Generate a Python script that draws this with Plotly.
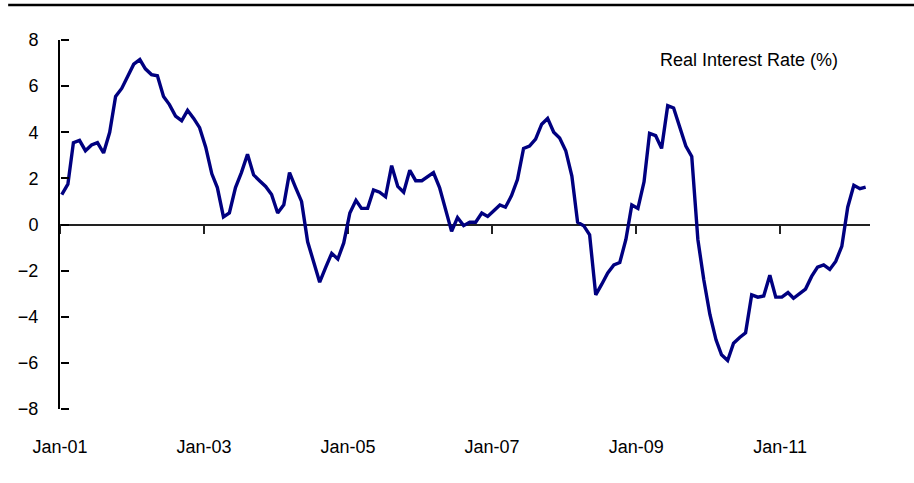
import pandas as pd
import plotly.graph_objects as go

# Monthly real interest rate (%), Jan 2001 onward (observations dated mid-month)
start_month = "2001-01-01"
obs_day_offset = 9
real_rate = [
    1.3, 1.75, 3.55, 3.65, 3.2, 3.45, 3.55, 3.1, 4.0, 5.55, 5.9, 6.45,      # 2001
    6.95, 7.15, 6.75, 6.5, 6.45, 5.55, 5.2, 4.7, 4.5, 4.95, 4.6, 4.2,       # 2002
    3.35, 2.2, 1.6, 0.33, 0.5, 1.6, 2.25, 3.05, 2.15, 1.9, 1.65, 1.3,       # 2003
    0.5, 0.85, 2.25, 1.6, 1.0, -0.75, -1.6, -2.5, -1.85, -1.25, -1.5, -0.8, # 2004
    0.5, 1.05, 0.7, 0.7, 1.5, 1.4, 1.2, 2.55, 1.65, 1.4, 2.35, 1.9,         # 2005
    1.9, 2.1, 2.25, 1.6, 0.6, -0.3, 0.3, -0.05, 0.1, 0.1, 0.5, 0.35,        # 2006
    0.6, 0.85, 0.75, 1.25, 1.95, 3.3, 3.4, 3.7, 4.35, 4.6, 4.0, 3.75,       # 2007
    3.2, 2.1, 0.1, -0.05, -0.45, -3.05, -2.6, -2.1, -1.75, -1.65, -0.65, 0.85,  # 2008
    0.7, 1.85, 3.95, 3.85, 3.3, 5.15, 5.05, 4.25, 3.4, 2.95, -0.65, -2.4,   # 2009
    -3.9, -5.0, -5.65, -5.9, -5.15, -4.9, -4.7, -3.05, -3.15, -3.1, -2.2, -3.15,  # 2010
    -3.15, -2.95, -3.2, -3.0, -2.8, -2.25, -1.85, -1.75, -1.95, -1.6, -0.95, 0.75,  # 2011
    1.7, 1.55, 1.62,                                                         # 2012
]
dates = (pd.date_range(start_month, periods=len(real_rate), freq="MS")
         + pd.Timedelta(days=obs_day_offset))

y_ticks = [-8, -6, -4, -2, 0, 2, 4, 6, 8]
x_tick_dates = ["2001-01-01", "2003-01-01", "2005-01-01", "2007-01-01",
                "2009-01-01", "2011-01-01"]
x_tick_labels = ["Jan-01", "Jan-03", "Jan-05", "Jan-07", "Jan-09", "Jan-11"]
x_range = ["2001-01-01", "2012-04-01"]
y_range = [-8, 8]
series_name = "Real Interest Rate (%)"

NAVY = "#000080"
INK = "#000000"
FONT = dict(family="Liberation Sans, Arial, sans-serif", size=18, color=INK)

fig = go.Figure()

# the visible series
fig.add_trace(go.Scatter(
    x=dates, y=real_rate, mode="lines", name=series_name,
    line=dict(color=NAVY, width=3.4), xaxis="x", yaxis="y",
    showlegend=False,
))
# transparent copies bound to the helper axes so those axes get rendered
for xa, ya in (("x2", "y"), ("x", "y2")):
    fig.add_trace(go.Scatter(
        x=dates, y=real_rate, mode="lines", opacity=0, hoverinfo="skip",
        line=dict(color=NAVY, width=0), xaxis=xa, yaxis=ya,
        showlegend=False,
    ))

fig.update_layout(
    width=914, height=483,
    margin=dict(l=60, r=44, t=40, b=74),
    paper_bgcolor="white", plot_bgcolor="white",
    font=FONT,
    showlegend=False,
    # date labels along the bottom
    xaxis=dict(
        type="date", range=x_range,
        tickvals=x_tick_dates, ticktext=x_tick_labels,
        showline=False, showgrid=False, zeroline=False,
        ticks="", ticklabelstandoff=25,
        tickfont=FONT,
    ),
    # horizontal axis line through zero with downward tick marks
    xaxis2=dict(
        type="date", overlaying="x", matches="x",
        anchor="free", position=0.5,
        tickvals=x_tick_dates, showticklabels=False,
        showline=True, linecolor="#222222", linewidth=2,
        ticks="outside", ticklen=8, tickwidth=2, tickcolor="#222222",
        showgrid=False, zeroline=False, layer="below traces",
    ),
    # value axis: line and labels
    yaxis=dict(
        range=y_range, tickvals=y_ticks,
        showline=True, linecolor=INK, linewidth=2,
        ticks="",
        showgrid=False, zeroline=False,
        ticklabelstandoff=16, tickfont=FONT,
    ),
    # value axis tick marks pointing into the plot
    yaxis2=dict(
        overlaying="y", matches="y", anchor="free", position=0, side="right",
        tickvals=y_ticks, showticklabels=False,
        showline=False, ticks="outside", ticklen=8, tickwidth=2, tickcolor=INK,
        showgrid=False, zeroline=False,
    ),
    annotations=[dict(
        text=series_name, xref="paper", yref="paper",
        x=0.8506, y=0.9458, xanchor="center", yanchor="middle",
        showarrow=False, font=FONT,
    )],
    shapes=[dict(
        type="line", xref="paper", yref="paper",
        x0=-0.064, x1=1.06, y0=1.0949, y1=1.0949,
        line=dict(color=INK, width=2.5),
    )],
)

fig.write_html("out.html")
